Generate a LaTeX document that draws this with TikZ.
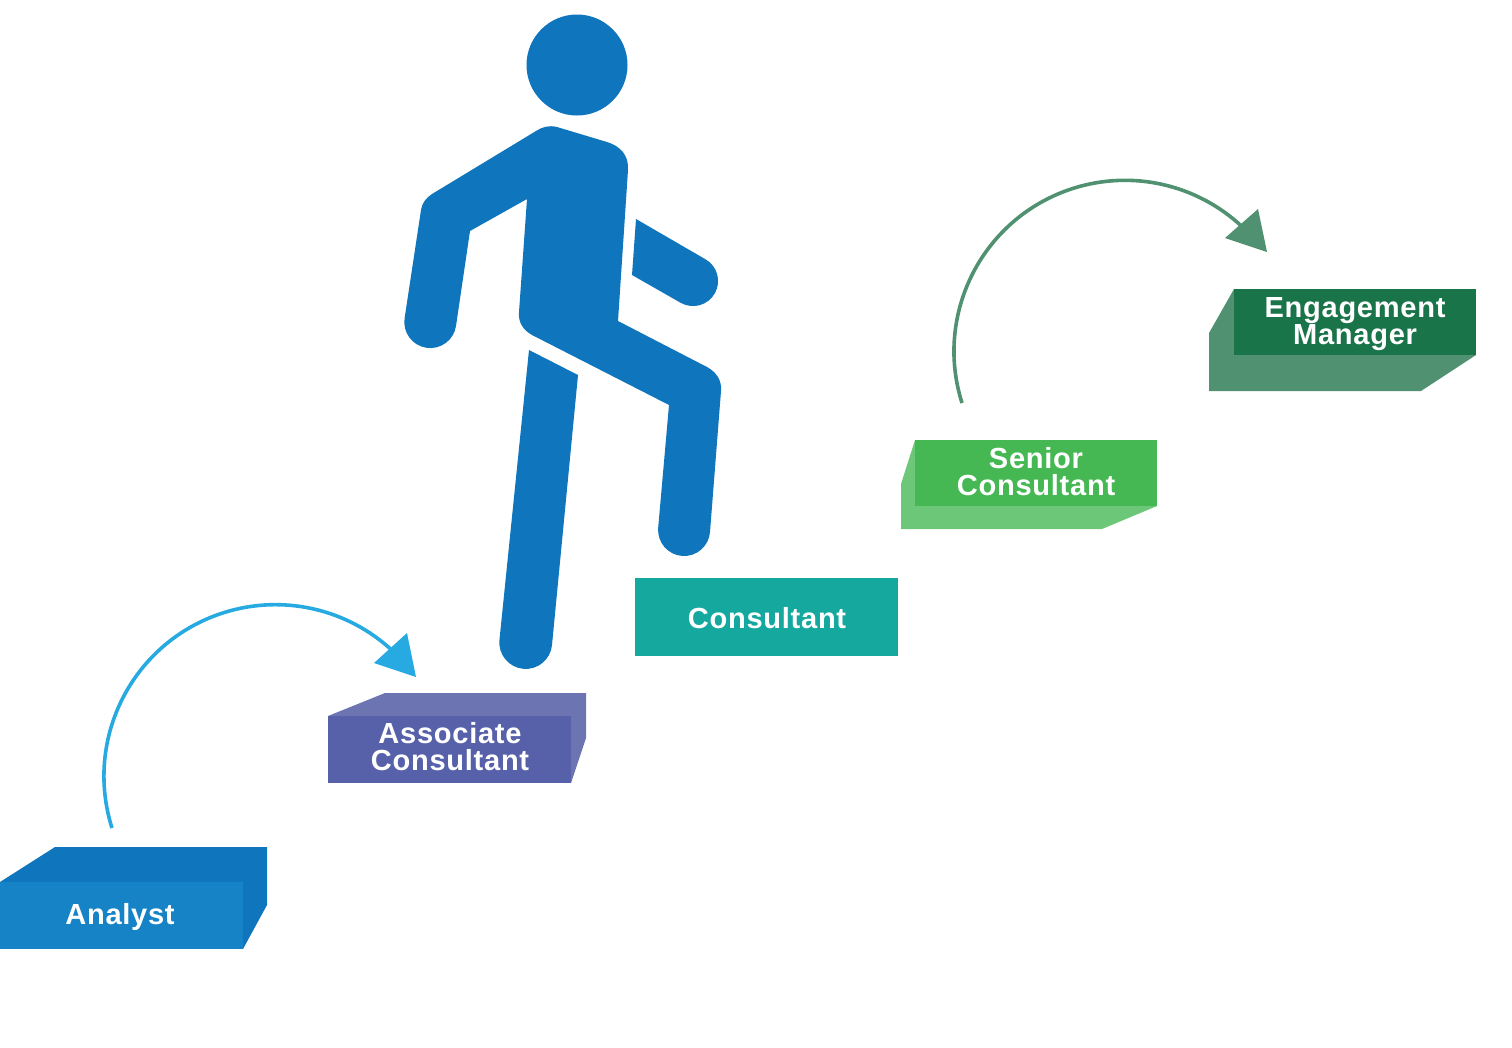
\documentclass[tikz,border=0pt]{standalone}
\usepackage{fontspec}
\setmainfont{Liberation Sans}[LetterSpace=2.5]
\definecolor{figblue}{HTML}{0F75BC}
\definecolor{anaF}{HTML}{1583C6}
\definecolor{assocF}{HTML}{5661AA}
\definecolor{assocS}{HTML}{6C74B2}
\definecolor{consF}{HTML}{14A89E}
\definecolor{senF}{HTML}{45B853}
\definecolor{senS}{HTML}{6CC878}
\definecolor{engF}{HTML}{1A744A}
\definecolor{engS}{HTML}{4F9171}
\definecolor{arcblue}{HTML}{27AAE1}
\tikzset{
  x=0.75pt,y=-0.75pt,
  steplabel/.style={text=white,align=center,inner sep=0pt,
    font=\fontsize{21.8}{20.25}\selectfont\bfseries},
  hoparc/.style={line width=2.7pt}
}
\begin{document}
\begin{tikzpicture}
\useasboundingbox (0,0) rectangle (1512,1047);
% figure
\fill[figblue] (577,65) circle[radius=50.5];
\fill[figblue] (456,326) arc[start angle=8.7,delta angle=180,radius=26]
  -- (421,210) .. controls (422,203) and (426,198) .. (432,194)
  -- (536,131) .. controls (542,127) and (549,125) .. (557,127)
  -- (607,142) .. controls (620,146) and (629,155) .. (628,170)
  -- (618,321) -- (707,367) .. controls (716,372) and (722,380) .. (721,391)
  -- (710,532) arc[start angle=4.4,delta angle=180,radius=26]
  -- (669,405) -- (532,335) .. controls (523,330) and (518,322) .. (519,312)
  -- (527,199) -- (470,231) -- cycle;
\fill[figblue] (636,219) -- (705,259) arc[start angle=-61.4,delta angle=180,radius=25.06]
  -- (632,275) -- cycle;
\fill[figblue] (529,350) -- (578,375) -- (552,645) arc[start angle=5.4,delta angle=180,radius=26.4] -- cycle;
% analyst
\fill[figblue] (0,882) -- (55,847) -- (267,847) -- (267,905) -- (243,949) -- (243,882) -- cycle;
\fill[anaF] (0,882) rectangle (243,949);
\node[steplabel] (analyst) at (120,916.5) {Analyst};
% associate
\fill[assocS] (328,716) -- (385,693) -- (586,693) -- (586,738) -- (571,783) -- (571,716) -- cycle;
\fill[assocF] (328,716) rectangle (571,783);
\node[steplabel] (associate) at (450,747) {Associate\\Consultant};
% consultant
\fill[consF] (635,578) rectangle (898,656);
\node[steplabel] (consultant) at (767,618) {Consultant};
% senior
\fill[senS] (915,440) -- (901,484) -- (901,529) -- (1102,529) -- (1157,506) -- (915,506) -- cycle;
\fill[senF] (915,440) rectangle (1157,506);
\node[steplabel] (senior) at (1036,472) {Senior\\Consultant};
% engagement
\fill[engS] (1234,289) -- (1209,333) -- (1209,391) -- (1421,391) -- (1476,355) -- (1234,355) -- cycle;
\fill[engF] (1234,289) rectangle (1476,355);
\node[steplabel] (engagement) at (1355,324) {Engagement\\Manager};
% arcs
\coordinate (arcA) at (112,828);
\draw[hoparc,arcblue] (arcA) arc[start angle=162.4,end angle=313,radius=171.5];
\fill[arcblue] (407,633) -- (416,677) -- (374,663) -- cycle;
\coordinate (arcB) at (962,403);
\draw[hoparc,engS] (arcB) arc[start angle=162.4,end angle=313,radius=171];
\fill[engS] (1258,209) -- (1267,252) -- (1225,238) -- cycle;
\end{tikzpicture}
\end{document}
